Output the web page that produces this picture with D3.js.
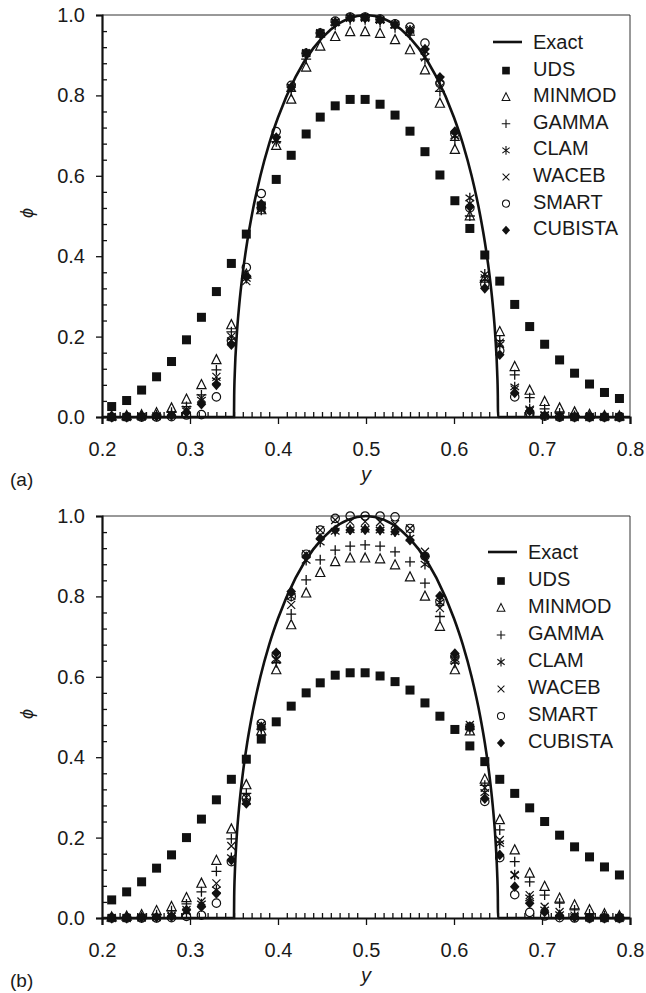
<!DOCTYPE html>
<meta charset="utf-8">
<script src="https://d3js.org/d3.v7.min.js"></script>
<style>
  body { margin: 0; background: #fff; }
  text { font-family: "Liberation Sans", Arial, sans-serif; fill: #1a1a1a; }
</style>
<div id="chart"></div>
<script>

// grid positions (y) of the computed points
var ys = [0.211, 0.228, 0.245, 0.262, 0.279, 0.296, 0.313, 0.330, 0.347, 0.364,
          0.381, 0.398, 0.415, 0.432, 0.448, 0.465, 0.482, 0.499, 0.516, 0.533,
          0.550, 0.567, 0.584, 0.601, 0.618, 0.635, 0.652, 0.669, 0.686, 0.703,
          0.720, 0.737, 0.754, 0.771, 0.788];

var schemes = ["UDS", "MINMOD", "GAMMA", "CLAM", "WACEB", "SMART", "CUBISTA"];

var xTicks = [0.2, 0.3, 0.4, 0.5, 0.6, 0.7, 0.8];
var yTicks = [0.0, 0.2, 0.4, 0.6, 0.8, 1.0];

// exact profile
var exactY   = [0.2, 0.35, 0.3502, 0.351, 0.353, 0.356, 0.36, 0.365, 0.37, 0.38, 0.39, 0.40, 0.42, 0.44, 0.46, 0.48, 0.50,
                0.52, 0.54, 0.56, 0.58, 0.60, 0.61, 0.62, 0.63, 0.635, 0.64, 0.644, 0.647, 0.649, 0.6498, 0.65, 0.8];
var exactPhi = [0, 0, 0.052, 0.115, 0.199, 0.280, 0.359, 0.436, 0.499, 0.600, 0.680, 0.745, 0.846, 0.917, 0.964, 0.991, 1.0,
                0.991, 0.964, 0.917, 0.846, 0.745, 0.680, 0.600, 0.499, 0.436, 0.359, 0.280, 0.199, 0.115, 0.052, 0, 0];

// panel (a)
var udsA     = [0.026, 0.041, 0.067, 0.100, 0.138, 0.192, 0.248, 0.312, 0.382, 0.455, 0.525, 0.591, 0.651, 0.704, 0.746, 0.774, 0.790, 0.790,
                0.778, 0.751, 0.711, 0.660, 0.602, 0.538, 0.469, 0.403, 0.338, 0.280, 0.225, 0.181, 0.142, 0.109, 0.082, 0.061, 0.046];
var minmodA  = [0.002, 0.003, 0.005, 0.010, 0.022, 0.044, 0.080, 0.142, 0.229, 0.355, 0.515, 0.675, 0.790, 0.870, 0.922, 0.946, 0.958, 0.958,
                0.954, 0.938, 0.913, 0.863, 0.780, 0.665, 0.500, 0.345, 0.212, 0.125, 0.066, 0.038, 0.022, 0.012, 0.006, 0.003, 0.002];
var gammaA   = [0.000, 0.001, 0.002, 0.005, 0.012, 0.026, 0.055, 0.117, 0.212, 0.350, 0.520, 0.685, 0.810, 0.890, 0.945, 0.975, 0.988, 0.988,
                0.982, 0.968, 0.950, 0.890, 0.810, 0.688, 0.500, 0.340, 0.190, 0.105, 0.048, 0.020, 0.010, 0.004, 0.002, 0.001, 0.000];
var clamA    = [0.000, 0.000, 0.001, 0.002, 0.005, 0.015, 0.042, 0.090, 0.190, 0.345, 0.515, 0.690, 0.820, 0.905, 0.955, 0.982, 0.993, 0.993,
                0.988, 0.976, 0.962, 0.910, 0.840, 0.700, 0.545, 0.355, 0.180, 0.075, 0.020, 0.005, 0.002, 0.000, 0.000, 0.000, 0.000];
var wacebA   = [0.000, 0.000, 0.001, 0.002, 0.006, 0.018, 0.047, 0.100, 0.200, 0.338, 0.520, 0.690, 0.820, 0.905, 0.955, 0.982, 0.993, 0.993,
                0.988, 0.976, 0.965, 0.895, 0.820, 0.700, 0.530, 0.345, 0.185, 0.068, 0.015, 0.004, 0.001, 0.000, 0.000, 0.000, 0.000];
var smartA   = [0.000, 0.000, 0.000, 0.000, 0.001, 0.005, 0.006, 0.050, 0.190, 0.372, 0.556, 0.710, 0.825, 0.905, 0.955, 0.985, 0.995, 0.995,
                0.990, 0.978, 0.970, 0.930, 0.830, 0.705, 0.520, 0.330, 0.165, 0.050, 0.010, 0.002, 0.000, 0.000, 0.000, 0.000, 0.000];
var cubistaA = [0.000, 0.000, 0.001, 0.002, 0.004, 0.012, 0.032, 0.080, 0.180, 0.350, 0.530, 0.695, 0.820, 0.905, 0.955, 0.982, 0.993, 0.993,
                0.988, 0.976, 0.960, 0.915, 0.845, 0.710, 0.523, 0.320, 0.155, 0.060, 0.015, 0.003, 0.000, 0.000, 0.000, 0.000, 0.000];

// panel (b)
var udsB     = [0.045, 0.065, 0.090, 0.124, 0.157, 0.200, 0.246, 0.294, 0.345, 0.395, 0.445, 0.488, 0.527, 0.560, 0.585, 0.604, 0.610, 0.610,
                0.602, 0.588, 0.567, 0.535, 0.502, 0.469, 0.428, 0.389, 0.345, 0.310, 0.274, 0.240, 0.206, 0.177, 0.152, 0.127, 0.107];
var minmodB  = [0.002, 0.004, 0.008, 0.018, 0.028, 0.050, 0.086, 0.143, 0.221, 0.331, 0.465, 0.617, 0.729, 0.808, 0.859, 0.886, 0.895, 0.895,
                0.893, 0.878, 0.848, 0.800, 0.725, 0.617, 0.465, 0.345, 0.244, 0.169, 0.111, 0.078, 0.049, 0.032, 0.020, 0.010, 0.005];
var gammaB   = [0.001, 0.002, 0.004, 0.008, 0.018, 0.035, 0.065, 0.116, 0.197, 0.310, 0.470, 0.635, 0.756, 0.841, 0.891, 0.915, 0.925, 0.928,
                0.925, 0.911, 0.886, 0.833, 0.750, 0.634, 0.470, 0.330, 0.219, 0.140, 0.090, 0.057, 0.037, 0.020, 0.010, 0.005, 0.002];
var clamB    = [0.000, 0.000, 0.001, 0.002, 0.005, 0.015, 0.035, 0.070, 0.150, 0.290, 0.475, 0.645, 0.800, 0.890, 0.935, 0.962, 0.966, 0.967,
                0.965, 0.961, 0.945, 0.880, 0.785, 0.645, 0.475, 0.312, 0.185, 0.107, 0.050, 0.020, 0.008, 0.003, 0.000, 0.000, 0.000];
var wacebB   = [0.000, 0.000, 0.001, 0.002, 0.006, 0.020, 0.041, 0.086, 0.179, 0.300, 0.480, 0.642, 0.779, 0.905, 0.965, 0.990, 0.986, 0.986,
                0.985, 0.980, 0.969, 0.911, 0.771, 0.640, 0.480, 0.324, 0.194, 0.107, 0.057, 0.028, 0.015, 0.006, 0.002, 0.000, 0.000];
var smartB   = [0.000, 0.000, 0.000, 0.000, 0.001, 0.004, 0.007, 0.037, 0.140, 0.297, 0.484, 0.655, 0.800, 0.905, 0.965, 0.994, 1.000, 1.000,
                1.000, 0.998, 0.969, 0.900, 0.787, 0.650, 0.475, 0.290, 0.150, 0.058, 0.014, 0.005, 0.001, 0.000, 0.000, 0.000, 0.000];
var cubistaB = [0.000, 0.000, 0.001, 0.002, 0.004, 0.020, 0.028, 0.061, 0.144, 0.285, 0.475, 0.660, 0.812, 0.899, 0.944, 0.965, 0.965, 0.966,
                0.965, 0.961, 0.940, 0.899, 0.801, 0.658, 0.476, 0.297, 0.157, 0.078, 0.037, 0.015, 0.006, 0.002, 0.000, 0.000, 0.000];

var panels = [
  { tag: "(a)", top: 15,  series: [udsA, minmodA, gammaA, clamA, wacebA, smartA, cubistaA], legX: 493, legY: 42 },
  { tag: "(b)", top: 516, series: [udsB, minmodB, gammaB, clamB, wacebB, smartB, cubistaB], legX: 488, legY: 552 }
];

var W = 646, H = 993;
var left = 102, right = 630, plotH = 402;

var svg = d3.select("#chart").append("svg")
    .attr("width", W)
    .attr("height", H);

var x = d3.scaleLinear().domain([0.2, 0.8]).range([left, right]);

var xMinor = d3.range(20, 81).map(function(d) { return d / 100; })
  .filter(function(d) { return Math.round(d * 100) % 10 != 0; });
var yMinor = d3.range(0, 26).map(function(d) { return d * 0.04; })
  .filter(function(d) { return Math.round(d * 100) % 20 != 0; });

// marker drawing for each scheme
function marker(g, name, cx, cy, s) {
  s = s || 1;
  var m = g.append("g").attr("transform", "translate(" + cx + "," + cy + ") scale(" + s + ")");
  if (name == "UDS") {
    m.append("rect").attr("x", -4.5).attr("y", -4.5).attr("width", 9).attr("height", 9).attr("fill", "#111");
  } else if (name == "MINMOD") {
    m.append("path").attr("d", "M0,-5.3L4.6,3.8L-4.6,3.8Z").attr("fill", "none").attr("stroke", "#111").attr("stroke-width", 1.2);
  } else if (name == "GAMMA") {
    m.append("path").attr("d", "M-5,0H5M0,-5V5").attr("stroke", "#111").attr("stroke-width", 1.3);
  } else if (name == "CLAM") {
    m.append("path").attr("d", "M0,-5.2V5.2M-4.3,-3.2L4.3,3.2M-4.3,3.2L4.3,-3.2").attr("stroke", "#111").attr("stroke-width", 1.3);
  } else if (name == "WACEB") {
    m.append("path").attr("d", "M-4,-4L4,4M-4,4L4,-4").attr("stroke", "#111").attr("stroke-width", 1.2);
  } else if (name == "SMART") {
    m.append("circle").attr("r", 4.2).attr("fill", "none").attr("stroke", "#111").attr("stroke-width", 1.2);
  } else if (name == "CUBISTA") {
    m.append("path").attr("d", "M0,-5.3L4.8,0L0,5.3L-4.8,0Z").attr("fill", "#111");
  }
}

panels.forEach(function(p) {
  var y = d3.scaleLinear().domain([0, 1]).range([p.top + plotH, p.top]);
  var g = svg.append("g");

  // frame (top / right)
  g.append("path")
    .attr("d", "M" + left + "," + p.top + "H" + right + "V" + (p.top + plotH))
    .attr("fill", "none").attr("stroke", "#333").attr("stroke-width", 1);

  // x axis: majors outside, minors inside
  var xa = g.append("g")
    .attr("transform", "translate(0," + (p.top + plotH) + ")")
    .call(d3.axisBottom(x).tickValues(xTicks).tickSize(7).tickPadding(18).tickFormat(d3.format(".1f")));
  g.append("g")
    .attr("transform", "translate(0," + (p.top + plotH) + ")")
    .call(d3.axisTop(x).tickValues(xMinor).tickSize(5).tickFormat(""))
    .select(".domain").remove();

  // y axis
  var ya = g.append("g")
    .attr("transform", "translate(" + left + ",0)")
    .call(d3.axisLeft(y).tickValues(yTicks).tickSize(6).tickPadding(11).tickFormat(d3.format(".1f")));
  g.append("g")
    .attr("transform", "translate(" + left + ",0)")
    .call(d3.axisRight(y).tickValues(yMinor).tickSize(5).tickFormat(""))
    .select(".domain").remove();

  g.selectAll(".tick line").attr("stroke", "#111").attr("stroke-width", 1.3);
  xa.select(".domain").attr("stroke", "#111").attr("stroke-width", 2.2);
  ya.select(".domain").attr("stroke", "#111").attr("stroke-width", 2.2);
  g.selectAll(".tick text").attr("font-size", 20).attr("fill", "#1a1a1a")
    .attr("font-family", "'Liberation Sans', Arial, sans-serif");

  // exact line
  var line = d3.line()
    .x(function(d, i) { return x(exactY[i]); })
    .y(function(d) { return y(d); })
    .curve(d3.curveMonotoneX);
  g.append("path")
    .datum(exactPhi)
    .attr("d", line)
    .attr("fill", "none")
    .attr("stroke", "#111")
    .attr("stroke-width", 2.6);

  // markers
  p.series.forEach(function(vals, k) {
    vals.forEach(function(v, i) {
      marker(g, schemes[k], x(ys[i]), y(v));
    });
  });

  // legend
  var step = p.tag == "(a)" ? 26.6 : 27;
  g.append("line")
    .attr("x1", p.legX).attr("x2", p.legX + 29)
    .attr("y1", p.legY).attr("y2", p.legY)
    .attr("stroke", "#111").attr("stroke-width", 2.6);
  g.append("text").attr("x", p.legX + 40).attr("y", p.legY).attr("dy", "0.35em")
    .attr("font-size", 20).text("Exact");
  schemes.forEach(function(s, k) {
    var yy = p.legY + (k + 1) * step;
    marker(g, s, p.legX + 13, yy + 2, 0.85);
    g.append("text").attr("x", p.legX + 40).attr("y", yy).attr("dy", "0.35em")
      .attr("font-size", 20).text(s);
  });

  // axis titles
  g.append("text")
    .attr("transform", "translate(27," + (p.top + 198) + ") rotate(-90)")
    .attr("text-anchor", "middle")
    .attr("dy", "0.35em")
    .attr("font-family", "'DejaVu Serif', serif")
    .attr("font-style", "italic")
    .attr("font-size", 18)
    .text("ϕ");
  g.append("text")
    .attr("x", 366).attr("y", p.top + plotH + 64)
    .attr("text-anchor", "middle")
    .attr("font-style", "italic")
    .attr("font-size", 20)
    .text("y");
  g.append("text")
    .attr("x", 10).attr("y", p.top + plotH + 69)
    .attr("font-family", "'Liberation Serif', 'Times New Roman', serif")
    .attr("font-size", 19)
    .text(p.tag);
});

</script>
